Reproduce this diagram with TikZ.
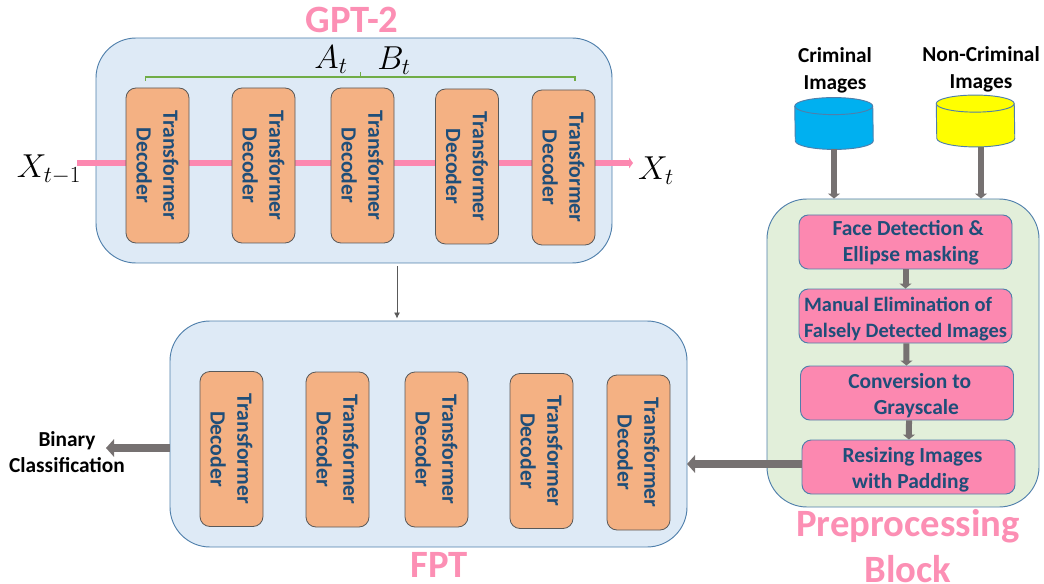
\documentclass[tikz,border=0pt]{standalone}
\usepackage{fontspec}
\setmainfont{Carlito}
\usepackage{xcolor}
\usetikzlibrary{arrows.meta, positioning}

\definecolor{panelblue}{HTML}{DEEAF6}
\definecolor{panelgreen}{HTML}{E2EFDA}
\definecolor{panelline}{HTML}{4F7FAB}
\definecolor{decoderfill}{HTML}{F4B183}
\definecolor{stepfill}{HTML}{FC88B0}
\definecolor{titlepink}{HTML}{FC8FB4}
\definecolor{textblue}{HTML}{1F4E79}
\definecolor{arrowgray}{HTML}{767171}
\definecolor{bracketgreen}{HTML}{70AD47}
\definecolor{dbblue}{HTML}{00B0F0}
\definecolor{dbyellow}{HTML}{FFFF00}

% cylinder drawn over a named empty node
\newcommand{\drawdb}[2]{
\draw[panelline, fill=#2, line width=0.7pt] ([yshift=-6.4pt]#1.north west)
arc[start angle=180, end angle=0, x radius=29.25pt, y radius=6.4pt]
-- ([yshift=6.4pt]#1.south east)
arc[start angle=0, end angle=-180, x radius=29.25pt, y radius=6.4pt] -- cycle;
\draw[panelline, line width=0.7pt] ([yshift=-6.4pt]#1.north west)
arc[start angle=180, end angle=360, x radius=29.25pt, y radius=6.4pt];
}

\begin{document}
\begin{tikzpicture}[
x=0.75pt, y=-0.75pt,
panel/.style={draw=panelline, fill=panelblue, rounded corners=30pt, line width=0.7pt},
decoder/.style={draw=black!65, fill=decoderfill, rounded corners=7.5pt, rotate=-90,
minimum width=116.25pt, minimum height=47.25pt, inner sep=0pt, align=center,
text=textblue, font=\fontsize{16.3}{20}\selectfont\bfseries, line width=0.6pt},
stepbox/.style={draw=panelline, fill=stepfill, rounded corners=7pt,
minimum width=159.75pt, minimum height=40.5pt, inner sep=0pt, align=center,
text=textblue, font=\fontsize{16.1}{19.5}\selectfont\bfseries, line width=0.7pt},
database/.style={minimum width=58.5pt, minimum height=38.5pt, inner sep=0pt},
title/.style={text=titlepink, font=\fontsize{29}{35}\selectfont\bfseries, align=center, inner sep=0pt},
caption/.style={text=black, font=\fontsize{16}{20}\selectfont\bfseries, align=center},
mathlabel/.style={text=black, font=\fontsize{24}{28}\selectfont},
arrow/.style={-{Triangle[width=9pt,length=3.75pt]}, arrowgray, line width=4.5pt},
bigarrow/.style={-{Triangle[width=13pt,length=6pt]}, arrowgray, line width=6.5pt},
linkarrow/.style={-{Latex[width=4.5pt,length=4.5pt]}, black!65, line width=0.6pt},
flow/.style={-{Triangle[width=8pt,length=3pt]}, stepfill, line width=4.5pt},
bracket/.style={draw=bracketgreen, line width=0.8pt}
]
\useasboundingbox (0,0) rectangle (1044,584);

% GPT-2 block
\node[panel, minimum width=387pt, minimum height=168.75pt] (gptpanel) at (354,150.5) {};
\node[title] (gpttitle) at (352,20) {GPT-2};
\coordinate (xin) at (77,163);
\coordinate (xout) at (633,163);
\draw[flow] (xin) -- (xout);

\node[decoder] (gptdec1) at (157.5,165.5) {Transformer\\Decoder};
\node[decoder] (gptdec2) at (263.5,165.5) {Transformer\\Decoder};
\node[decoder] (gptdec3) at (362.5,165.5) {Transformer\\Decoder};
\node[decoder] (gptdec4) at (467,166.5) {Transformer\\Decoder};
\node[decoder] (gptdec5) at (563.5,167.5) {Transformer\\Decoder};

\draw[bracket] (145.5,81) -- (145.5,77) -- (575,77) -- (575,81) (360.5,77) -- (360.5,72);
\node[mathlabel] (atlabel) at (331,60) {$A_t$};
\node[mathlabel] (btlabel) at (394,61) {$B_t$};
\node[mathlabel] (xinlabel) at (49,170) {$X_{t-1}$};
\node[mathlabel] (xoutlabel) at (656,171) {$X_t$};

% FPT block
\node[panel, minimum width=387.75pt, minimum height=169.5pt] (fptpanel) at (428.5,434) {};
\node[title] (fpttitle) at (439,565) {FPT};

\node[decoder] (fptdec1) at (231.5,449) {Transformer\\Decoder};
\node[decoder] (fptdec2) at (337.5,449.5) {Transformer\\Decoder};
\node[decoder] (fptdec3) at (436.5,449.5) {Transformer\\Decoder};
\node[decoder] (fptdec4) at (541.5,451) {Transformer\\Decoder};
\node[decoder] (fptdec5) at (638.5,452.5) {Transformer\\Decoder};

\coordinate (linkx) at (397,0);
\draw[linkarrow, shorten <=2.2pt, shorten >=1.5pt] (gptpanel.south -| linkx) -- (fptpanel.north -| linkx);

\node[caption] (binary) at (67,452) {Binary\\Classification};
\coordinate (binout) at (106,448);
\draw[bigarrow] (fptpanel.west |- binout) -- (binout);

% preprocessing block
\node[panel, fill=panelgreen, minimum width=204pt, minimum height=231pt] (prepanel) at (903,353) {};
\node[title] (pretitle) at (908,546) {Preprocessing\\Block};

\node[stepbox] (facestep) at (905.5,242) {\rule{0pt}{13.2pt}\hspace*{4pt}Face Detection \&\\\hspace*{8pt}Ellipse masking};
\node[stepbox, align=left, font=\fontsize{15.3}{19}\selectfont\bfseries] (manualstep) at (905.5,316) {\rule{0pt}{15.5pt}Manual Elimination of\\Falsely Detected Images};
\node[stepbox] (graystep) at (907,393) {\rule{0pt}{15pt}\hspace*{4pt}Conversion to\\\hspace*{14pt}Grayscale};
\node[stepbox] (resizestep) at (908.5,467) {\rule{0pt}{15pt}\hspace*{6pt}Resizing Images\\\hspace*{3pt}with Padding};

\draw[arrow] (facestep.south) -- (manualstep.north);
\draw[arrow] ([xshift=0.7pt]manualstep.south) -- ([xshift=-0.4pt]graystep.north);
\draw[arrow] ([xshift=1.5pt]graystep.south) -- ([xshift=0.3pt]resizestep.north);

\coordinate (fptin) at (687,464);
\draw[bigarrow] (resizestep.west |- fptin) -- (fptin);

% input images
\node[caption] (crimtext) at (835,70.5) {Criminal\\Images};
\node[caption] (noncrimtext) at (981,69) {Non-Criminal\\Images};
\node[database] (crimdb) at (834,123.5) {};
\node[database] (noncrimdb) at (975.5,121) {};
\drawdb{crimdb}{dbblue}
\drawdb{noncrimdb}{dbyellow}

\coordinate (noncrimx) at (981,0);
\draw[arrow] (crimdb.south) -- (crimdb.south |- prepanel.north);
\draw[arrow] (noncrimdb.south -| noncrimx) -- (prepanel.north -| noncrimx);

\end{tikzpicture}
\end{document}
